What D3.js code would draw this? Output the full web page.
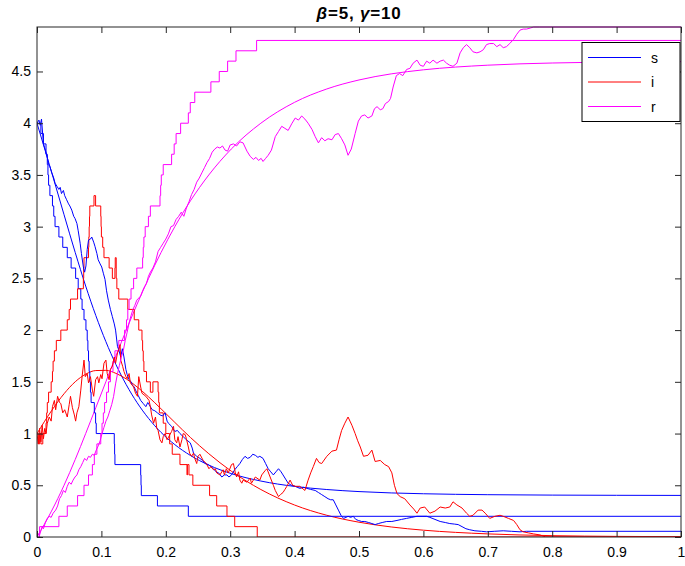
<!DOCTYPE html>
<html><head><meta charset="utf-8">
<script src="https://cdn.jsdelivr.net/npm/d3@7"></script>
<style>body{margin:0;background:#fff;}svg{display:block;font-family:"Liberation Sans",Arial,sans-serif;}</style>
</head><body><svg id="c" width="685" height="566"></svg>
<script>
// ---- data ----
const xTicks = [0,0.1,0.2,0.3,0.4,0.5,0.6,0.7,0.8,0.9,1];
const yTicks = [0,0.5,1,1.5,2,2.5,3,3.5,4,4.5];
const seriesNames = ["s","i","r"];
const seriesColors = ["#0000ff","#ff0000","#ff00ff"];

// deterministic (ODE) solution
const tSmooth = [0,0.0225,0.042,0.0594,0.0756,0.0913,0.1069,0.1225,0.1386,0.1554,0.1733,0.1926,0.214,0.2383,0.2668,0.3016,0.3476,0.4,0.45,0.5,0.55,0.6,0.7,0.8,0.9,1.0];
const sSmooth = [4,3.530,3.115,2.749,2.426,2.141,1.889,1.668,1.472,1.299,1.146,1.011,0.893,0.788,0.695,0.613,0.541,0.489,0.459,0.439,0.426,0.418,0.409,0.405,0.403,0.402];
const iSmooth = [1,1.220,1.385,1.501,1.574,1.609,1.611,1.582,1.528,1.451,1.354,1.239,1.108,0.962,0.805,0.637,0.459,0.309,0.210,0.143,0.097,0.066,0.030,0.013,0.006,0.003];
const rSmooth = [0,0.25,0.5,0.75,1,1.25,1.5,1.75,2,2.25,2.5,2.75,3,3.25,3.5,3.75,4,4.202,4.331,4.418,4.477,4.516,4.561,4.582,4.591,4.595];

// jump process (step)
const stepS = [[0,4.0],[0.006,3.9],[0.010,3.8],[0.014,3.7],[0.016,3.6],[0.017,3.5],[0.018,3.4],[0.020,3.3],[0.024,3.2],[0.026,3.1],[0.028,3.0],[0.034,2.9],[0.040,2.8],[0.047,2.7],[0.053,2.6],[0.060,2.5],[0.064,2.4],[0.068,2.3],[0.070,2.2],[0.073,2.1],[0.076,2.0],[0.078,1.9],[0.079,1.8],[0.080,1.7],[0.081,1.6],[0.082,1.5],[0.083,1.4],[0.084,1.3],[0.089,1.2],[0.091,1.1],[0.092,1.0],[0.120,0.9],[0.1205,0.8],[0.121,0.7],[0.161,0.6],[0.1615,0.5],[0.162,0.4],[0.187,0.3],[0.235,0.2],[1,0.2]];
const stepI = [[0,1.0],[0.002,0.9],[0.004,1.0],[0.006,0.9],[0.009,1.0],[0.014,1.1],[0.015,1.2],[0.016,1.3],[0.018,1.4],[0.022,1.5],[0.024,1.6],[0.025,1.7],[0.027,1.8],[0.030,1.9],[0.037,2.0],[0.047,2.1],[0.050,2.2],[0.052,2.3],[0.063,2.4],[0.072,2.5],[0.0725,2.6],[0.073,2.7],[0.080,2.8],[0.0805,2.9],[0.081,3.0],[0.0815,3.1],[0.082,3.2],[0.0885,3.3],[0.091,3.2],[0.099,3.1],[0.0995,3.0],[0.100,2.9],[0.102,2.8],[0.104,2.7],[0.112,2.6],[0.117,2.5],[0.121,2.6],[0.1215,2.7],[0.123,2.5],[0.124,2.4],[0.127,2.3],[0.141,2.2],[0.151,2.1],[0.158,2.0],[0.163,1.9],[0.164,1.8],[0.165,1.7],[0.166,1.6],[0.170,1.5],[0.176,1.4],[0.180,1.5],[0.188,1.4],[0.189,1.3],[0.190,1.2],[0.196,1.1],[0.200,1.0],[0.206,0.9],[0.210,0.8],[0.222,0.7],[0.233,0.6],[0.2335,0.7],[0.236,0.6],[0.242,0.5],[0.268,0.4],[0.279,0.3],[0.295,0.2],[0.307,0.1],[0.342,0.0],[1,0.0]];
const stepR = [[0,0],[0.004,0.1],[0.034,0.2],[0.047,0.3],[0.063,0.4],[0.073,0.5],[0.080,0.6],[0.086,0.7],[0.089,0.8],[0.093,0.9],[0.099,1.0],[0.101,1.1],[0.103,1.2],[0.105,1.3],[0.108,1.4],[0.111,1.5],[0.114,1.6],[0.118,1.7],[0.121,1.8],[0.127,1.9],[0.136,2.0],[0.139,2.1],[0.141,2.2],[0.143,2.3],[0.146,2.4],[0.150,2.5],[0.155,2.6],[0.164,2.7],[0.165,2.8],[0.166,2.9],[0.168,3.0],[0.173,3.1],[0.176,3.2],[0.191,3.3],[0.192,3.4],[0.193,3.5],[0.196,3.6],[0.209,3.7],[0.213,3.8],[0.216,3.9],[0.223,4.0],[0.235,4.1],[0.238,4.2],[0.245,4.3],[0.270,4.4],[0.283,4.5],[0.296,4.6],[0.309,4.7],[0.341,4.8],[1,4.8]];

// diffusion approximation (noisy)
const noisyS = [[0,4.0],[0.003,4.03],[0.005,3.98],[0.007,4.04],[0.010,3.8],[0.013,3.74],[0.016,3.67],[0.018,3.6],[0.020,3.58],[0.023,3.52],[0.026,3.47],[0.028,3.42],[0.031,3.39],[0.034,3.36],[0.036,3.38],[0.038,3.32],[0.041,3.35],[0.043,3.3],[0.046,3.26],[0.049,3.22],[0.051,3.2],[0.054,3.16],[0.057,3.1],[0.059,3.08],[0.062,3.03],[0.064,2.96],[0.067,2.84],[0.069,2.74],[0.072,2.61],[0.074,2.56],[0.076,2.62],[0.078,2.78],[0.080,2.87],[0.083,2.88],[0.085,2.9],[0.088,2.85],[0.090,2.81],[0.093,2.74],[0.095,2.68],[0.098,2.64],[0.1005,2.61],[0.103,2.55],[0.1056,2.49],[0.108,2.38],[0.1107,2.29],[0.114,2.2],[0.117,2.13],[0.120,2.06],[0.122,2.0],[0.125,1.84],[0.127,1.81],[0.130,1.74],[0.1325,1.82],[0.135,1.74],[0.138,1.62],[0.140,1.57],[0.143,1.52],[0.146,1.5],[0.148,1.47],[0.151,1.45],[0.153,1.42],[0.157,1.37],[0.161,1.32],[0.165,1.29],[0.169,1.26],[0.172,1.3],[0.174,1.28],[0.177,1.25],[0.179,1.23],[0.183,1.22],[0.187,1.2],[0.191,1.18],[0.195,1.17],[0.199,1.2],[0.202,1.12],[0.204,1.10],[0.209,1.07],[0.214,1.02],[0.218,1.03],[0.222,1.0],[0.227,0.97],[0.232,0.94],[0.238,0.91],[0.241,0.86],[0.243,0.81],[0.248,0.78],[0.253,0.76],[0.257,0.74],[0.261,0.71],[0.266,0.70],[0.270,0.68],[0.274,0.66],[0.278,0.63],[0.282,0.62],[0.287,0.58],[0.291,0.6],[0.295,0.6],[0.298,0.58],[0.302,0.6],[0.307,0.65],[0.311,0.68],[0.315,0.71],[0.319,0.75],[0.323,0.78],[0.327,0.76],[0.331,0.77],[0.335,0.80],[0.339,0.79],[0.343,0.77],[0.346,0.78],[0.351,0.76],[0.355,0.71],[0.359,0.66],[0.363,0.63],[0.367,0.60],[0.371,0.63],[0.375,0.66],[0.379,0.63],[0.382,0.60],[0.386,0.56],[0.390,0.52],[0.395,0.50],[0.401,0.49],[0.408,0.47],[0.414,0.48],[0.419,0.47],[0.425,0.46],[0.432,0.45],[0.437,0.43],[0.442,0.41],[0.447,0.39],[0.452,0.37],[0.456,0.36],[0.460,0.36],[0.464,0.31],[0.468,0.26],[0.472,0.21],[0.476,0.18],[0.480,0.19],[0.483,0.20],[0.487,0.19],[0.491,0.20],[0.495,0.17],[0.499,0.16],[0.504,0.15],[0.509,0.15],[0.515,0.14],[0.520,0.13],[0.525,0.12],[0.530,0.13],[0.536,0.14],[0.543,0.15],[0.551,0.15],[0.559,0.16],[0.566,0.17],[0.574,0.18],[0.582,0.19],[0.590,0.20],[0.598,0.20],[0.605,0.20],[0.610,0.19],[0.618,0.17],[0.626,0.15],[0.634,0.14],[0.641,0.13],[0.648,0.125],[0.654,0.12],[0.660,0.1],[0.666,0.08],[0.672,0.07],[0.680,0.06],[0.690,0.055],[0.698,0.05],[0.710,0.055],[0.724,0.06],[0.737,0.055],[0.75,0.05],[0.76,0.055],[1.0,0.055]];
const noisyI = [[0,1.0],[0.002,0.9],[0.004,1.05],[0.006,0.92],[0.008,1.08],[0.010,0.95],[0.012,1.05],[0.014,1.0],[0.016,1.1],[0.019,1.16],[0.022,1.12],[0.024,1.26],[0.027,1.32],[0.029,1.23],[0.032,1.36],[0.035,1.3],[0.037,1.29],[0.040,1.2],[0.043,1.23],[0.047,1.16],[0.050,1.28],[0.052,1.36],[0.055,1.25],[0.058,1.18],[0.060,1.12],[0.062,1.2],[0.065,1.26],[0.068,1.42],[0.070,1.55],[0.073,1.71],[0.075,1.55],[0.078,1.58],[0.080,1.49],[0.083,1.55],[0.086,1.42],[0.088,1.36],[0.091,1.52],[0.094,1.55],[0.096,1.49],[0.099,1.57],[0.101,1.53],[0.104,1.68],[0.107,1.71],[0.109,1.58],[0.112,1.52],[0.114,1.62],[0.117,1.65],[0.120,1.74],[0.122,1.68],[0.125,1.78],[0.127,1.81],[0.129,1.86],[0.130,1.71],[0.133,1.65],[0.135,1.6],[0.138,1.55],[0.140,1.53],[0.143,1.58],[0.145,1.49],[0.150,1.45],[0.153,1.39],[0.156,1.36],[0.158,1.55],[0.161,1.45],[0.163,1.39],[0.169,1.36],[0.174,1.32],[0.176,1.26],[0.178,1.18],[0.181,1.10],[0.184,1.16],[0.186,1.05],[0.188,1.03],[0.191,0.94],[0.194,0.91],[0.196,0.97],[0.199,1.0],[0.202,0.94],[0.209,1.02],[0.212,1.07],[0.214,0.94],[0.217,0.91],[0.219,0.97],[0.222,0.87],[0.225,0.94],[0.227,1.0],[0.230,0.99],[0.232,0.95],[0.235,0.87],[0.237,0.81],[0.240,0.78],[0.243,0.81],[0.245,0.76],[0.248,0.71],[0.250,0.78],[0.253,0.8],[0.258,0.74],[0.263,0.71],[0.267,0.66],[0.270,0.68],[0.274,0.65],[0.277,0.66],[0.279,0.62],[0.284,0.6],[0.289,0.65],[0.291,0.6],[0.294,0.66],[0.297,0.62],[0.302,0.70],[0.305,0.71],[0.308,0.62],[0.310,0.58],[0.313,0.63],[0.315,0.55],[0.318,0.52],[0.320,0.55],[0.326,0.53],[0.331,0.57],[0.333,0.52],[0.339,0.58],[0.346,0.55],[0.349,0.6],[0.354,0.64],[0.357,0.66],[0.362,0.58],[0.367,0.5],[0.370,0.45],[0.375,0.39],[0.378,0.41],[0.382,0.43],[0.385,0.46],[0.388,0.49],[0.393,0.55],[0.397,0.5],[0.401,0.49],[0.408,0.49],[0.416,0.45],[0.421,0.55],[0.425,0.62],[0.429,0.68],[0.434,0.76],[0.438,0.72],[0.442,0.71],[0.450,0.78],[0.458,0.83],[0.465,0.84],[0.469,0.94],[0.473,1.03],[0.478,1.1],[0.483,1.16],[0.486,1.12],[0.489,1.08],[0.494,1.0],[0.498,0.93],[0.502,0.87],[0.507,0.78],[0.514,0.79],[0.520,0.84],[0.525,0.73],[0.533,0.74],[0.540,0.70],[0.546,0.68],[0.551,0.62],[0.555,0.5],[0.559,0.42],[0.564,0.39],[0.571,0.37],[0.579,0.31],[0.585,0.27],[0.590,0.23],[0.595,0.28],[0.602,0.29],[0.610,0.23],[0.618,0.25],[0.626,0.29],[0.634,0.28],[0.641,0.29],[0.646,0.34],[0.652,0.31],[0.660,0.28],[0.667,0.23],[0.672,0.20],[0.677,0.21],[0.685,0.26],[0.691,0.26],[0.696,0.23],[0.703,0.18],[0.711,0.20],[0.719,0.21],[0.724,0.20],[0.732,0.18],[0.740,0.16],[0.745,0.12],[0.750,0.07],[0.755,0.05],[0.763,0.04],[0.771,0.03],[0.781,0.02],[0.79,0.0],[1.0,0.0]];
const noisyR = [[0,0],[0.002,0.03],[0.004,0.02],[0.006,0.06],[0.008,0.1],[0.01,0.08],[0.013,0.14],[0.016,0.18],[0.019,0.2],[0.022,0.19],[0.025,0.23],[0.029,0.26],[0.032,0.3],[0.035,0.37],[0.038,0.4],[0.041,0.45],[0.044,0.43],[0.047,0.49],[0.050,0.53],[0.053,0.51],[0.056,0.55],[0.059,0.58],[0.062,0.6],[0.065,0.65],[0.068,0.68],[0.071,0.72],[0.074,0.76],[0.077,0.74],[0.080,0.78],[0.083,0.77],[0.086,0.8],[0.089,0.79],[0.092,0.84],[0.095,0.88],[0.098,0.93],[0.101,1.0],[0.104,1.06],[0.107,1.12],[0.110,1.16],[0.113,1.22],[0.116,1.28],[0.119,1.36],[0.122,1.48],[0.125,1.58],[0.128,1.66],[0.131,1.74],[0.134,1.80],[0.137,1.9],[0.140,1.98],[0.143,2.07],[0.146,2.14],[0.149,2.2],[0.152,2.24],[0.155,2.29],[0.158,2.31],[0.161,2.33],[0.164,2.38],[0.167,2.42],[0.170,2.45],[0.173,2.52],[0.176,2.56],[0.180,2.6],[0.184,2.66],[0.188,2.76],[0.192,2.8],[0.196,2.84],[0.200,2.88],[0.204,2.93],[0.208,3.0],[0.212,3.01],[0.216,3.07],[0.220,3.1],[0.224,3.14],[0.228,3.1],[0.232,3.18],[0.236,3.24],[0.240,3.31],[0.244,3.36],[0.248,3.43],[0.252,3.47],[0.256,3.52],[0.260,3.57],[0.264,3.62],[0.268,3.66],[0.272,3.72],[0.276,3.75],[0.280,3.77],[0.284,3.76],[0.288,3.78],[0.292,3.74],[0.296,3.73],[0.300,3.79],[0.305,3.8],[0.310,3.78],[0.315,3.82],[0.320,3.81],[0.326,3.73],[0.331,3.68],[0.336,3.65],[0.340,3.67],[0.344,3.64],[0.348,3.66],[0.351,3.63],[0.355,3.66],[0.359,3.69],[0.364,3.74],[0.370,3.87],[0.375,3.92],[0.380,3.97],[0.385,3.95],[0.390,3.93],[0.396,4.0],[0.401,4.05],[0.406,4.03],[0.411,4.07],[0.416,4.04],[0.421,4.0],[0.427,3.94],[0.432,3.87],[0.437,3.81],[0.442,3.86],[0.447,3.83],[0.452,3.85],[0.458,3.84],[0.463,3.89],[0.468,3.9],[0.473,3.85],[0.478,3.79],[0.483,3.69],[0.488,3.75],[0.494,3.9],[0.499,4.02],[0.504,4.07],[0.509,4.08],[0.514,4.05],[0.520,4.07],[0.524,4.14],[0.528,4.16],[0.533,4.13],[0.537,4.14],[0.541,4.19],[0.546,4.21],[0.549,4.24],[0.553,4.35],[0.558,4.46],[0.563,4.48],[0.568,4.46],[0.574,4.52],[0.579,4.53],[0.584,4.58],[0.590,4.61],[0.595,4.56],[0.600,4.55],[0.605,4.6],[0.610,4.58],[0.615,4.61],[0.621,4.58],[0.626,4.6],[0.631,4.61],[0.636,4.58],[0.641,4.56],[0.646,4.55],[0.652,4.58],[0.657,4.68],[0.662,4.73],[0.667,4.76],[0.672,4.73],[0.677,4.69],[0.683,4.68],[0.688,4.69],[0.693,4.71],[0.698,4.76],[0.703,4.77],[0.709,4.77],[0.714,4.74],[0.719,4.76],[0.724,4.73],[0.729,4.74],[0.734,4.77],[0.740,4.81],[0.745,4.86],[0.750,4.9],[0.755,4.91],[0.760,4.91],[0.766,4.92],[0.771,4.93],[0.780,4.93],[1.0,4.93]];

// ---- drawing ----
const svg = d3.select("#c");
const L = 37, R = 681, T = 27, B = 537;
const yMax = 4.93;
const x = d3.scaleLinear().domain([0,1]).range([L,R]);
const y = d3.scaleLinear().domain([0,yMax]).range([B,T]);
const axisColor = "#262626";

svg.append("defs").append("clipPath").attr("id","clip")
  .append("rect").attr("x",L).attr("y",T-1).attr("width",R-L).attr("height",B-T+1);

const plot = svg.append("g").attr("clip-path","url(#clip)");
const lineSmooth = d3.line().x(d=>x(d[0])).y(d=>y(d[1])).curve(d3.curveMonotoneX);
const lineStep = d3.line().x(d=>x(d[0])).y(d=>y(d[1])).curve(d3.curveStepAfter);
const lineNoisy = d3.line().x(d=>x(d[0])).y(d=>y(d[1]));

const smoothSets = [sSmooth, iSmooth, rSmooth].map(arr => tSmooth.map((t,k)=>[t,arr[k]]));
smoothSets.forEach((d,k)=>{
  plot.append("path").attr("d",lineSmooth(d)).attr("fill","none")
    .attr("stroke",seriesColors[k]).attr("stroke-width",1);
});
[stepS, stepI, stepR].forEach((d,k)=>{
  plot.append("path").attr("d",lineStep(d)).attr("fill","none")
    .attr("stroke",seriesColors[k]).attr("stroke-width",1);
});
[noisyS, noisyI, noisyR].forEach((d,k)=>{
  plot.append("path").attr("d",lineNoisy(d)).attr("fill","none")
    .attr("stroke",seriesColors[k]).attr("stroke-width",1).attr("stroke-linejoin","round");
});

// axes (MATLAB style: box, inward ticks)
const axG = svg.append("g");
const gBottom = axG.append("g").attr("transform",`translate(0,${B})`)
  .call(d3.axisBottom(x).tickValues(xTicks).tickSize(-6).tickPadding(10).tickFormat(d=>d3.format("")(d)));
const gTop = axG.append("g").attr("transform",`translate(0,${T})`)
  .call(d3.axisTop(x).tickValues(xTicks).tickSize(-6).tickFormat(""));
const gLeft = axG.append("g").attr("transform",`translate(${L},0)`)
  .call(d3.axisLeft(y).tickValues(yTicks).tickSize(-6).tickPadding(6).tickFormat(d=>d3.format("")(d)));
const gRight = axG.append("g").attr("transform",`translate(${R},0)`)
  .call(d3.axisRight(y).tickValues(yTicks).tickSize(-6).tickFormat(""));
[gBottom,gTop,gLeft,gRight].forEach(g=>{
  g.select(".domain").remove();
  g.selectAll(".tick line").attr("stroke",axisColor);
  g.selectAll("text").attr("fill","#000").attr("font-size",14).attr("font-family","'Liberation Sans',Arial,sans-serif");
});
axG.append("rect").attr("x",L).attr("y",T).attr("width",R-L).attr("height",B-T)
  .attr("fill","none").attr("stroke",axisColor).attr("stroke-width",1);

// title
const title = svg.append("text").attr("x",(L+R)/2).attr("y",19).attr("text-anchor","middle")
  .attr("font-size",17).attr("font-weight","bold").attr("letter-spacing",0.8).attr("fill","#000");
title.append("tspan").attr("font-style","italic").text("β");
title.append("tspan").text("=5, ");
title.append("tspan").attr("font-style","italic").text("γ");
title.append("tspan").text("=10");

// legend
const lg = svg.append("g");
lg.append("rect").attr("x",582).attr("y",42.5).attr("width",98).attr("height",79)
  .attr("fill","#fff").attr("stroke","#000").attr("stroke-width",1);
seriesNames.forEach((n,k)=>{
  const yy = 57.5 + k*24.5;
  lg.append("line").attr("x1",588).attr("x2",641).attr("y1",yy).attr("y2",yy)
    .attr("stroke",seriesColors[k]).attr("stroke-width",1);
  lg.append("text").attr("x",651).attr("y",yy+5).attr("font-size",14).attr("fill","#000").text(n);
});
</script></body></html>
